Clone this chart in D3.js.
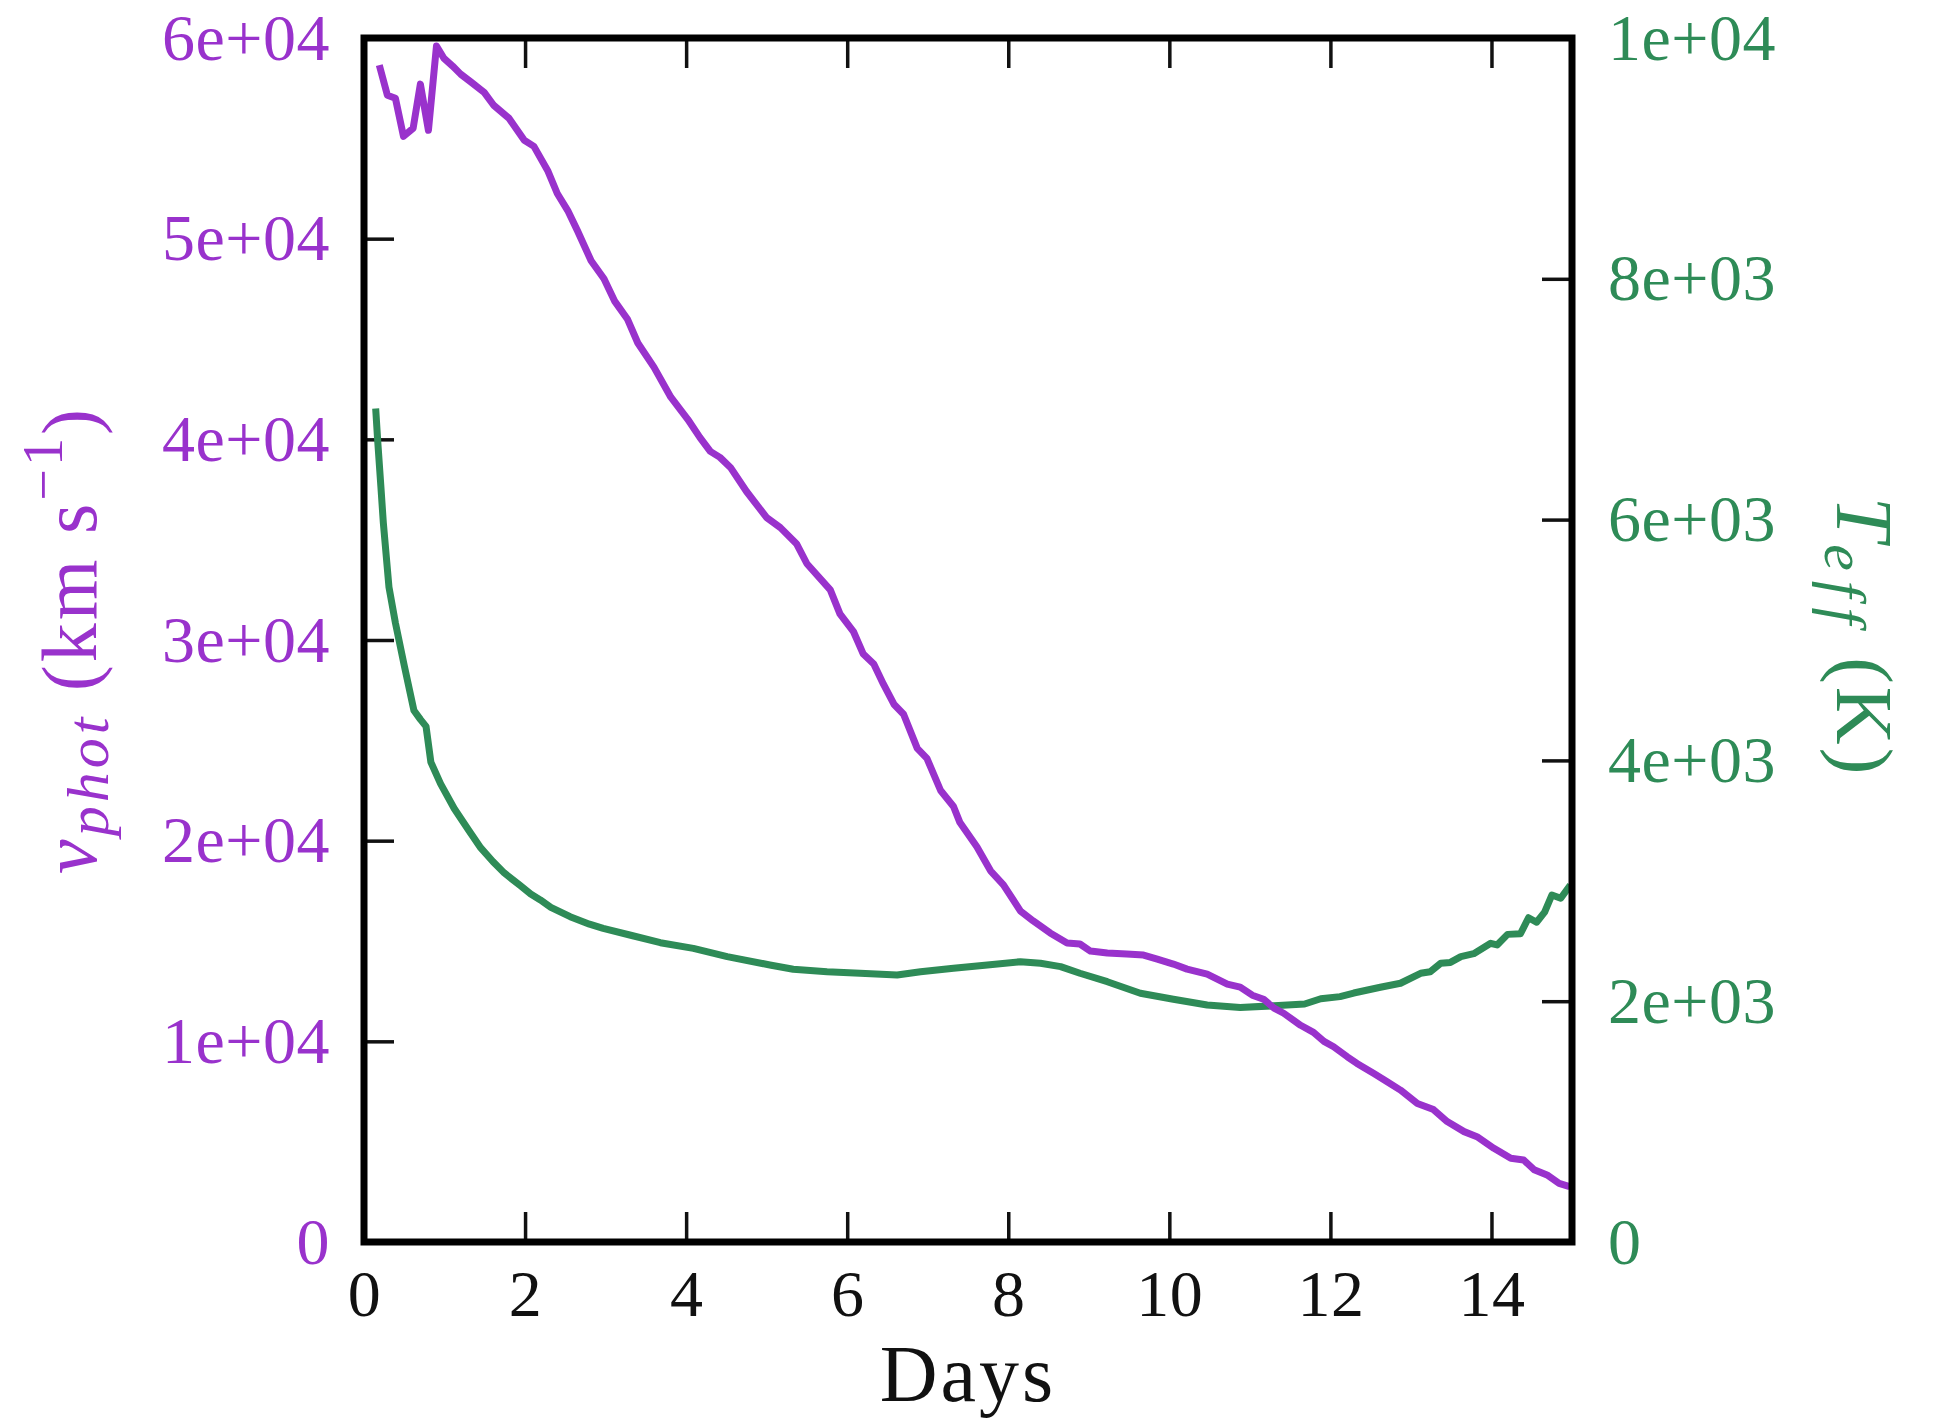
<!DOCTYPE html>
<html>
<head>
<meta charset="utf-8">
<script src="https://cdn.jsdelivr.net/npm/d3@7"></script>
<style>
  html, body { margin: 0; padding: 0; background: #ffffff; }
  svg { display: block; }
</style>
</head>
<body>
<svg id="chart" width="1948" height="1420"></svg>
<script>
// Photospheric velocity (km/s) against time since explosion (days)
const phaseV = [0.19, 0.29, 0.39, 0.49, 0.61, 0.70, 0.80, 0.90, 0.99, 1.10, 1.20, 1.33, 1.49, 1.61, 1.80,
  1.99, 2.11, 2.28, 2.40, 2.53, 2.65, 2.82, 2.98, 3.11, 3.27, 3.40, 3.60, 3.81, 4.02, 4.17, 4.30, 4.42,
  4.55, 4.75, 5.00, 5.17, 5.37, 5.50, 5.79, 5.91, 6.08, 6.20, 6.33, 6.45, 6.58, 6.70, 6.87, 6.99, 7.16,
  7.32, 7.40, 7.61, 7.78, 7.94, 8.15, 8.31, 8.52, 8.73, 8.89, 9.02, 9.23, 9.47, 9.68, 9.85, 10.05, 10.22,
  10.47, 10.72, 10.88, 11.03, 11.17, 11.30, 11.42, 11.63, 11.79, 11.92, 12.04, 12.21, 12.33, 12.54,
  12.70, 12.87, 13.08, 13.28, 13.45, 13.66, 13.82, 14.03, 14.24, 14.40, 14.53, 14.69, 14.84, 14.97];
const vphot = [58650, 57150, 57000, 55100, 55500, 57700, 55400, 59600, 59000, 58600, 58200, 57800, 57300,
  56650, 56000, 54900, 54600, 53400, 52250, 51400, 50400, 48900, 48000, 46900, 46000, 44800, 43600, 42100,
  41000, 40100, 39400, 39100, 38600, 37400, 36100, 35600, 34800, 33800, 32500, 31300, 30400, 29300, 28800,
  27800, 26800, 26300, 24600, 24100, 22500, 21700, 20900, 19700, 18500, 17800, 16500, 16000, 15400, 14900,
  14850, 14500, 14400, 14350, 14300, 14100, 13850, 13600, 13350, 12850, 12700, 12300, 12100, 11650, 11400,
  10800, 10450, 10000, 9730, 9230, 8900, 8400, 8000, 7570, 6900, 6600, 6000, 5500, 5250, 4670, 4170, 4090,
  3600, 3340, 2920, 2760];

// Effective temperature (K) against time since explosion (days)
const phaseT = [0.145, 0.17, 0.21, 0.24, 0.31, 0.39, 0.50, 0.62, 0.70, 0.77, 0.83, 0.95, 1.12, 1.30, 1.45,
  1.60, 1.74, 1.94, 2.07, 2.19, 2.32, 2.56, 2.80, 2.97, 3.30, 3.68, 4.09, 4.51, 5.04, 5.33, 5.75, 6.16,
  6.62, 6.91, 7.32, 7.74, 8.15, 8.40, 8.65, 8.89, 9.23, 9.64, 10.05, 10.47, 10.88, 11.30, 11.68, 11.88,
  12.12, 12.29, 12.62, 12.87, 13.12, 13.24, 13.37, 13.49, 13.62, 13.78, 13.99, 14.07, 14.20, 14.36, 14.46,
  14.56, 14.66, 14.75, 14.86, 14.98];
const teff = [6922, 6655, 6270, 5973, 5439, 5142, 4787, 4415, 4341, 4283, 3986, 3807, 3600, 3420, 3273,
  3160, 3066, 2960, 2890, 2841, 2780, 2702, 2640, 2605, 2550, 2486, 2439, 2370, 2301, 2265, 2245, 2232,
  2218, 2245, 2273, 2301, 2328, 2315, 2287, 2232, 2162, 2066, 2016, 1968, 1948, 1962, 1977, 2020, 2038,
  2068, 2116, 2149, 2232, 2245, 2315, 2322, 2370, 2395, 2481, 2467, 2555, 2560, 2693, 2656, 2740, 2882,
  2855, 2965];

// Tick values and their printed labels
const xTickValues = [0, 2, 4, 6, 8, 10, 12, 14];
const xTickLabels = ["0", "2", "4", "6", "8", "10", "12", "14"];
const leftTickValues = [0, 10000, 20000, 30000, 40000, 50000, 60000];
const leftTickLabels = ["0", "1e+04", "2e+04", "3e+04", "4e+04", "5e+04", "6e+04"];
const rightTickValues = [0, 2000, 4000, 6000, 8000, 10000];
const rightTickLabels = ["0", "2e+03", "4e+03", "6e+03", "8e+03", "1e+04"];

const purple = "#9932CC";
const green = "#2E8B57";
const ink = "#111111";
const serif = "'Liberation Serif', 'DejaVu Serif', serif";

const plot = { left: 364, right: 1572, top: 38, bottom: 1242 };

const svg = d3.select("#chart");

const x = d3.scaleLinear().domain([0, 15]).range([plot.left, plot.right]);
const yV = d3.scaleLinear().domain([0, 60000]).range([plot.bottom, plot.top]);
const yT = d3.scaleLinear().domain([0, 10000]).range([plot.bottom, plot.top]);

const tickLen = 30;
const tickFont = 66;

function styleAxis(g, color) {
  g.select(".domain").remove();
  g.selectAll(".tick line").attr("stroke", ink).attr("stroke-width", 3.5);
  g.selectAll(".tick text")
    .attr("font-family", serif)
    .attr("font-size", tickFont)
    .attr("letter-spacing", 0.5)
    .attr("fill", color);
}

// bottom axis with labels
svg.append("g")
  .attr("transform", `translate(0,${plot.bottom})`)
  .call(d3.axisBottom(x).tickValues(xTickValues)
    .tickFormat((d, i) => xTickLabels[i])
    .tickSizeInner(-tickLen).tickSizeOuter(0).tickPadding(27))
  .call(g => styleAxis(g, ink));

// top axis, ticks only
svg.append("g")
  .attr("transform", `translate(0,${plot.top})`)
  .call(d3.axisTop(x).tickValues(xTickValues.slice(1))
    .tickFormat("").tickSizeInner(-tickLen).tickSizeOuter(0))
  .call(g => styleAxis(g, ink));

// left axis: velocity
svg.append("g")
  .attr("transform", `translate(${plot.left},0)`)
  .call(d3.axisLeft(yV).tickValues(leftTickValues)
    .tickFormat((d, i) => leftTickLabels[i])
    .tickSizeInner(-tickLen).tickSizeOuter(0).tickPadding(34))
  .call(g => styleAxis(g, purple));

// right axis: temperature
svg.append("g")
  .attr("transform", `translate(${plot.right},0)`)
  .call(d3.axisRight(yT).tickValues(rightTickValues)
    .tickFormat((d, i) => rightTickLabels[i])
    .tickSizeInner(-tickLen).tickSizeOuter(0).tickPadding(36))
  .call(g => styleAxis(g, green));

// curves
const vLine = d3.line().x(d => x(d[0])).y(d => yV(d[1]));
const tLine = d3.line().x(d => x(d[0])).y(d => yT(d[1]));

svg.append("path")
  .datum(d3.zip(phaseT, teff))
  .attr("d", tLine)
  .attr("fill", "none")
  .attr("stroke", green)
  .attr("stroke-width", 7)
  .attr("stroke-linejoin", "round");

svg.append("path")
  .datum(d3.zip(phaseV, vphot))
  .attr("d", vLine)
  .attr("fill", "none")
  .attr("stroke", purple)
  .attr("stroke-width", 7)
  .attr("stroke-linejoin", "round");

// frame
svg.append("rect")
  .attr("x", plot.left).attr("y", plot.top)
  .attr("width", plot.right - plot.left)
  .attr("height", plot.bottom - plot.top)
  .attr("fill", "none")
  .attr("stroke", "#000")
  .attr("stroke-width", 7);

// x-axis title
svg.append("text")
  .attr("x", (plot.left + plot.right) / 2)
  .attr("y", 1401)
  .attr("text-anchor", "middle")
  .attr("font-family", serif)
  .attr("font-size", 80)
  .attr("letter-spacing", 3)
  .attr("fill", ink)
  .text("Days");

// left title: v_phot (km s^-1)
const lt = svg.append("text")
  .attr("transform", `translate(96,${(plot.top + plot.bottom) / 2}) rotate(-90)`)
  .attr("text-anchor", "middle")
  .attr("font-family", serif)
  .attr("font-size", 78)
  .attr("letter-spacing", 3)
  .attr("fill", purple);
lt.append("tspan").attr("font-style", "italic").text("v");
lt.append("tspan").attr("font-style", "italic").attr("font-size", 60)
  .attr("dy", 12).attr("letter-spacing", 4).text("phot");
lt.append("tspan").attr("dy", -12).text("\u00a0(km\u00a0s");
lt.append("tspan").attr("font-size", 56).attr("dy", -34).text("\u22121");
lt.append("tspan").attr("dy", 34).text(")");

// right title: T_eff (K)
const rt = svg.append("text")
  .attr("transform", `translate(1837,${(plot.top + plot.bottom) / 2 - 3}) rotate(90)`)
  .attr("text-anchor", "middle")
  .attr("font-family", serif)
  .attr("font-size", 80)
  .attr("letter-spacing", 3)
  .attr("fill", green);
rt.append("tspan").attr("font-style", "italic").text("T");
rt.append("tspan").attr("font-style", "italic").attr("font-size", 60)
  .attr("dy", 12).attr("letter-spacing", 10).text("eff");
rt.append("tspan").attr("dy", -12).text("\u00a0(K)");
</script>
</body>
</html>
